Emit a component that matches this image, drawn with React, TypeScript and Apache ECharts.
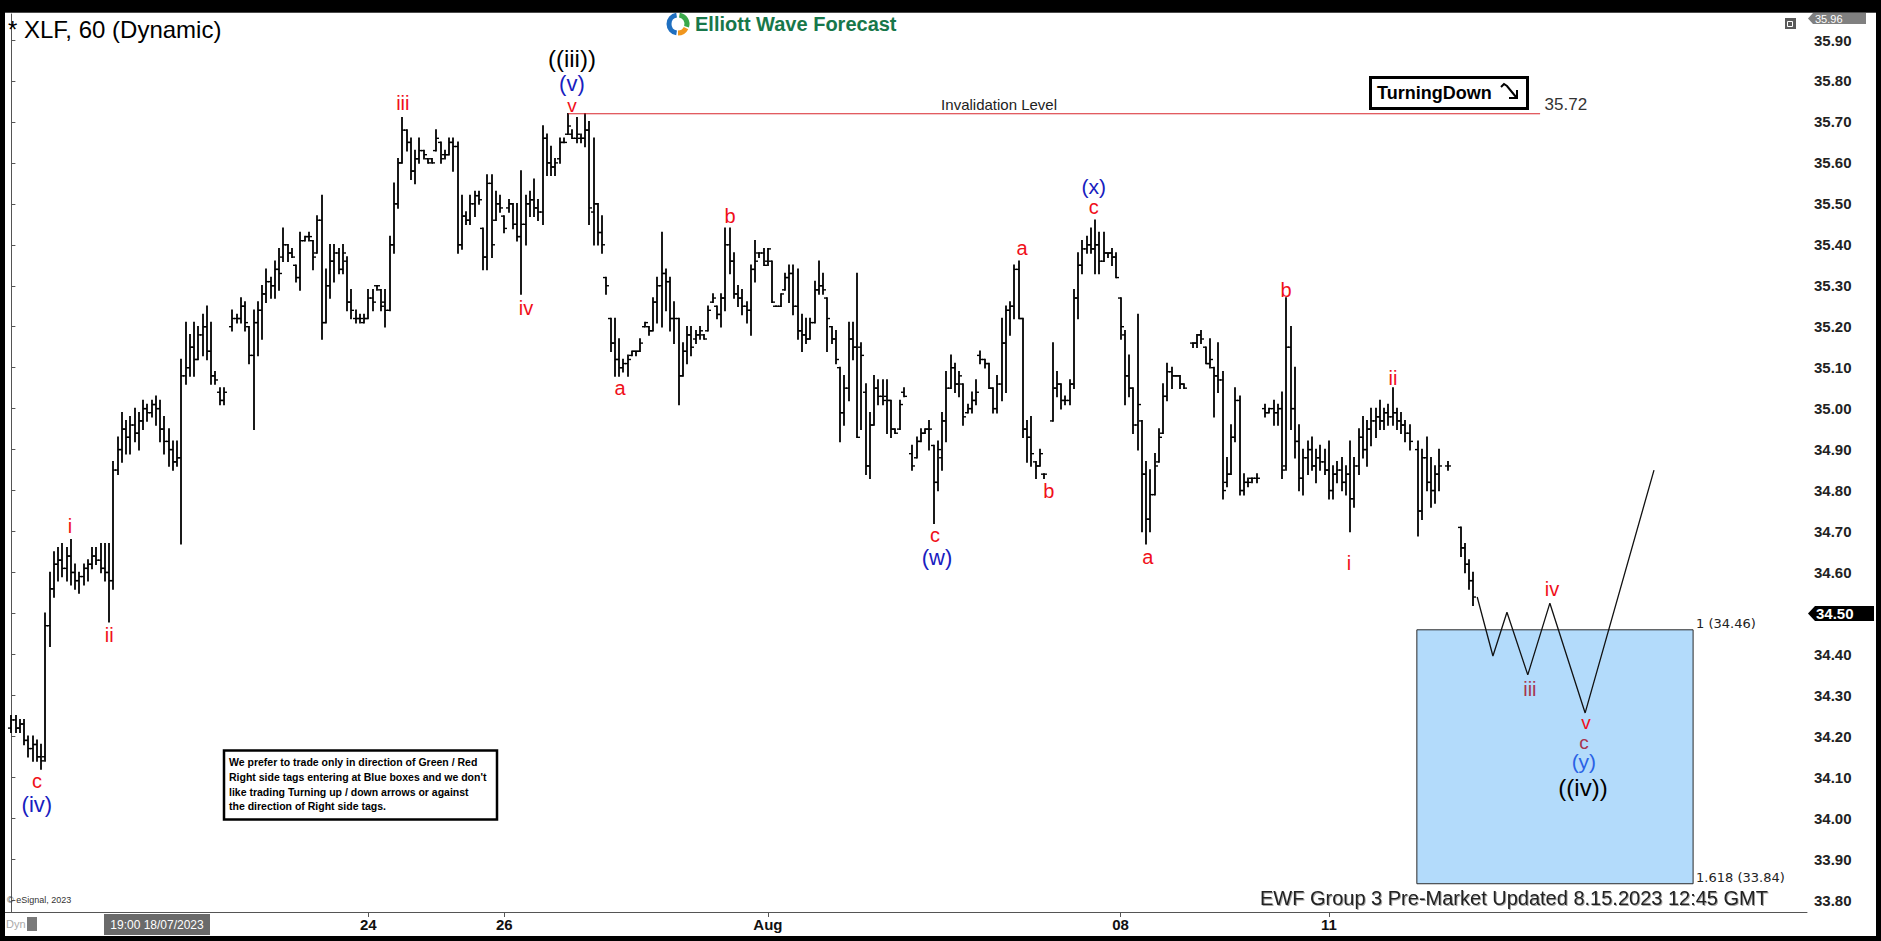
import React, { useEffect, useRef } from "react";
import * as echarts from "echarts";

type Bar = [number, number, number, number] | null; // [open, high, low, close]

// ---- hourly OHLC bars ----
const segJul17_19: Bar[] = [
  [34.22,34.25,34.21,34.24],[34.24,34.25,34.21,34.22],[34.22,34.24,34.21,34.23],[34.23,34.24,34.18,34.19],
  [34.19,34.20,34.15,34.17],[34.17,34.20,34.14,34.18],[34.18,34.19,34.14,34.15],[34.15,34.18,34.12,34.14],
  [34.15,34.50,34.14,34.47],[34.47,34.60,34.42,34.56],[34.56,34.65,34.54,34.62],[34.62,34.66,34.58,34.63],
  [34.63,34.67,34.59,34.61],[34.61,34.66,34.58,34.64],[34.64,34.68,34.57,34.60],[34.60,34.62,34.56,34.58],
  [34.58,34.60,34.55,34.59],[34.59,34.62,34.57,34.61],[34.61,34.63,34.58,34.62],[34.62,34.66,34.61,34.64],
  [34.64,34.66,34.62,34.63],[34.63,34.67,34.60,34.61],[34.61,34.67,34.58,34.60],[34.60,34.67,34.48,34.58],
  [34.58,34.87,34.56,34.85],[34.85,34.93,34.84,34.90],[34.90,34.99,34.87,34.95],[34.95,34.97,34.89,34.93],
  [34.93,34.98,34.89,34.96],[34.96,35.00,34.92,34.94],[34.94,34.99,34.90,34.97],[34.97,35.02,34.95,35.00],
  [35.00,35.01,34.97,34.99],[34.99,35.02,34.98,35.01],[35.01,35.03,34.96,35.00],[35.00,35.02,34.92,34.95],
  [34.95,34.98,34.89,34.92],[34.92,34.95,34.86,34.90],[34.90,34.92,34.85,34.87],[34.87,34.92,34.86,34.88],
  [34.88,35.12,34.67,35.08],
];
const segJul20_21: Bar[] = [
  [35.08,35.21,35.06,35.10],[35.10,35.18,35.08,35.15],[35.15,35.21,35.08,35.12],[35.12,35.20,35.12,35.18],
  [35.18,35.23,35.13,35.20],[35.20,35.25,35.12,35.14],[35.14,35.21,35.06,35.08],[35.08,35.09,35.06,35.07],
  [35.04,35.05,35.01,35.02],[35.02,35.05,35.01,35.04],null,
  [35.20,35.24,35.19,35.22],[35.22,35.23,35.21,35.22],[35.22,35.27,35.21,35.25],[35.25,35.26,35.19,35.21],
  [35.20,35.20,35.11,35.13],[35.13,35.24,34.95,35.21],[35.21,35.26,35.13,35.24],[35.24,35.30,35.17,35.28],
  [35.28,35.34,35.26,35.31],[35.31,35.32,35.27,35.30],[35.30,35.36,35.27,35.34],[35.34,35.39,35.29,35.33],
  [35.37,35.44,35.36,35.40],[35.40,35.40,35.36,35.38],[35.38,35.39,35.37,35.37],[35.35,35.35,35.31,35.32],
  [35.32,35.43,35.29,35.41],[35.41,35.42,35.41,35.42],[35.42,35.43,35.41,35.42],[35.41,35.41,35.34,35.37],
  [35.38,35.47,35.38,35.46],[35.46,35.52,35.17,35.21],
];
const segJul24_28: Bar[] = [
  [35.21,35.34,35.21,35.30],[35.30,35.40,35.27,35.36],[35.36,35.40,35.31,35.38],[35.38,35.39,35.33,35.34],
  [35.34,35.40,35.33,35.38],[35.36,35.37,35.24,35.26],[35.26,35.29,35.22,35.24],[35.22,35.24,35.21,35.22],
  [35.22,35.23,35.21,35.22],[35.21,35.23,35.21,35.22],[35.22,35.29,35.22,35.27],[35.27,35.29,35.24,35.26],
  [35.30,35.30,35.29,35.30],[35.29,35.29,35.24,35.25],[35.26,35.29,35.20,35.24],[35.24,35.42,35.24,35.40],
  [35.40,35.55,35.38,35.50],[35.50,35.61,35.49,35.60],[35.60,35.71,35.60,35.68],[35.68,35.68,35.63,35.65],
  [35.65,35.66,35.56,35.58],[35.58,35.63,35.55,35.61],[35.61,35.66,35.60,35.63],[35.63,35.63,35.61,35.62],
  [35.61,35.61,35.60,35.60],[35.61,35.61,35.60,35.60],[35.63,35.68,35.63,35.66],[35.65,35.65,35.60,35.61],
  [35.62,35.63,35.61,35.62],[35.62,35.66,35.62,35.65],[35.65,35.66,35.58,35.64],[35.64,35.65,35.38,35.40],
  [35.40,35.52,35.39,35.47],[35.47,35.48,35.45,35.46],[35.46,35.52,35.45,35.50],[35.50,35.53,35.47,35.52],
  [35.52,35.53,35.50,35.51],[35.44,35.44,35.34,35.37],[35.37,35.57,35.34,35.55],[35.55,35.57,35.37,35.40],
  [35.46,35.53,35.46,35.50],[35.50,35.52,35.48,35.49],[35.47,35.47,35.43,35.44],[35.49,35.51,35.48,35.50],
  [35.50,35.50,35.44,35.45],[35.45,35.50,35.41,35.42],[35.42,35.58,35.28,35.45],[35.45,35.52,35.40,35.50],
  [35.50,35.53,35.47,35.51],[35.51,35.56,35.47,35.49],[35.49,35.51,35.46,35.48],[35.48,35.69,35.45,35.66],
  [35.66,35.67,35.57,35.60],[35.60,35.64,35.57,35.59],[35.59,35.61,35.57,35.60],[35.61,35.66,35.60,35.65],
  [35.65,35.66,35.65,35.65],[35.67,35.72,35.67,35.69],[35.67,35.68,35.66,35.66],[35.66,35.71,35.65,35.67],
  [35.66,35.67,35.65,35.66],[35.66,35.72,35.64,35.68],[35.68,35.70,35.45,35.49],[35.48,35.66,35.40,35.50],
  [35.50,35.50,35.40,35.43],[35.43,35.47,35.38,35.40],[35.32,35.32,35.28,35.30],[35.22,35.22,35.14,35.16],
  [35.16,35.22,35.08,35.12],[35.12,35.17,35.08,35.10],[35.10,35.12,35.09,35.11],[35.11,35.13,35.08,35.12],
  [35.13,35.14,35.13,35.14],
];
const segJul31_Aug04: Bar[] = [
  [35.14,35.14,35.13,35.14],[35.14,35.17,35.14,35.16],[35.20,35.21,35.20,35.21],[35.20,35.20,35.18,35.19],
  [35.19,35.27,35.19,35.26],[35.26,35.32,35.21,35.30],[35.30,35.43,35.20,35.33],[35.33,35.34,35.24,35.31],
  [35.31,35.32,35.19,35.22],[35.22,35.26,35.16,35.22],[35.22,35.22,35.01,35.08],[35.08,35.16,35.08,35.14],
  [35.14,35.20,35.11,35.18],[35.18,35.20,35.13,35.15],[35.17,35.19,35.16,35.18],[35.18,35.20,35.17,35.19],
  [35.18,35.18,35.17,35.17],[35.19,35.25,35.19,35.24],[35.26,35.28,35.26,35.27],[35.25,35.25,35.22,35.23],
  [35.23,35.28,35.20,35.27],[35.27,35.44,35.24,35.40],[35.40,35.44,35.33,35.36],[35.36,35.38,35.27,35.28],
  [35.28,35.30,35.25,35.27],[35.27,35.29,35.23,35.25],[35.25,35.26,35.21,35.24],[35.24,35.35,35.18,35.34],
  [35.34,35.41,35.31,35.36],[35.38,35.38,35.37,35.38],[35.38,35.39,35.35,35.35],[35.36,35.39,35.35,35.39],
  [35.36,35.36,35.26,35.26],[35.25,35.25,35.25,35.25],[35.25,35.28,35.25,35.28],[35.29,35.33,35.29,35.32],
  [35.32,35.35,35.26,35.33],[35.33,35.35,35.23,35.25],[35.25,35.34,35.17,35.19],[35.19,35.23,35.14,35.18],
  [35.18,35.22,35.16,35.17],[35.17,35.22,35.17,35.21],[35.21,35.31,35.21,35.29],[35.29,35.36,35.28,35.30],
  [35.30,35.33,35.28,35.29],[35.27,35.27,35.14,35.22],[35.20,35.20,35.16,35.17],[35.17,35.19,35.11,35.12],
  [35.10,35.10,34.92,34.99],[34.99,35.08,34.96,35.05],[35.05,35.21,35.02,35.17],[35.17,35.21,35.12,35.15],
  [35.15,35.33,34.93,34.93],[35.15,35.16,34.95,35.13],[35.04,35.06,34.84,34.86],[34.86,34.99,34.83,34.96],
  [34.96,35.08,34.96,35.05],[35.05,35.07,35.01,35.03],[35.03,35.07,35.01,35.02],[35.03,35.07,34.94,35.02],
  [35.02,35.02,34.93,34.95],[34.95,34.95,34.94,34.94],[34.95,35.02,34.95,35.01],[35.04,35.05,35.03,35.03],
  null,
  [34.89,34.91,34.85,34.86],[34.88,34.93,34.88,34.92],[34.92,34.95,34.92,34.94],[34.94,34.95,34.94,34.95],
  [34.95,34.97,34.90,34.95],[34.91,34.91,34.72,34.82],[34.82,34.92,34.80,34.90],[34.88,34.99,34.85,34.97],
  [34.97,35.09,34.92,35.05],
];
const segAug07_10: Bar[] = [
  [35.05,35.13,35.05,35.10],[35.10,35.11,35.04,35.06],[35.06,35.09,35.03,35.08],[35.06,35.06,34.96,34.98],
  [34.99,35.01,34.99,35.00],[35.00,35.04,34.99,35.02],[35.02,35.07,35.01,35.04],[35.13,35.14,35.11,35.12],
  [35.12,35.12,35.10,35.11],[35.11,35.11,35.05,35.05],[35.05,35.05,34.99,35.00],[35.00,35.08,34.99,35.06],
  [35.06,35.22,35.02,35.16],[35.16,35.25,35.04,35.24],[35.24,35.26,35.18,35.25],[35.25,35.35,35.22,35.34],
  [35.34,35.36,35.22,35.22],[35.22,35.22,34.93,34.95],[34.95,34.97,34.87,34.93],[34.93,34.98,34.86,34.89],
  [34.87,34.87,34.83,34.86],[34.86,34.90,34.86,34.89],[34.84,34.84,34.83,34.84],null,
  [34.97,35.16,34.97,35.05],[35.05,35.09,35.03,35.06],[35.06,35.06,35.00,35.02],[35.02,35.03,35.01,35.02],
  [35.02,35.07,35.01,35.06],[35.06,35.29,35.05,35.27],[35.27,35.38,35.22,35.35],[35.35,35.41,35.33,35.39],
  [35.39,35.42,35.38,35.40],[35.40,35.44,35.38,35.39],[35.39,35.46,35.33,35.40],[35.40,35.43,35.33,35.36],
  [35.36,35.43,35.36,35.38],[35.38,35.38,35.37,35.38],[35.38,35.39,35.35,35.37],[35.37,35.38,35.32,35.32],
  [35.27,35.27,35.17,35.20],[35.18,35.19,35.01,35.08],[35.08,35.13,35.03,35.05],[35.05,35.05,34.94,34.96],
  [34.96,35.23,34.90,35.01],[34.97,34.97,34.70,34.84],[34.84,34.87,34.67,34.73],[34.73,34.85,34.70,34.79],
  [34.79,34.89,34.79,34.86],[34.87,34.95,34.87,34.93],[34.94,35.06,34.94,35.03],[35.03,35.11,35.02,35.09],
  [35.09,35.10,35.05,35.08],[35.08,35.08,35.08,35.08],[35.08,35.08,35.05,35.06],[35.06,35.06,35.05,35.05],
  null,
  [35.16,35.16,35.15,35.16],[35.16,35.18,35.15,35.18],[35.18,35.19,35.16,35.17],[35.15,35.15,35.11,35.11],
  [35.11,35.17,35.10,35.12],[35.10,35.10,34.98,35.08],[35.08,35.16,35.04,35.07],[35.07,35.09,34.78,34.80],
  [34.82,34.88,34.81,34.84],[34.84,34.96,34.84,34.93],[34.93,35.05,34.92,35.02],[35.02,35.03,34.79,34.80],
  [34.80,34.84,34.79,34.82],[34.82,34.83,34.81,34.82],[34.83,34.83,34.82,34.83],[34.83,34.84,34.82,34.83],
  null,
  [35.00,35.01,34.98,34.99],[34.99,35.00,34.99,35.00],[35.00,35.02,34.96,34.99],[34.99,35.01,34.96,35.00],
  [35.00,35.04,34.83,34.85],
];
const segAug11_15: Bar[] = [
  [34.86,35.27,34.85,35.15],[35.15,35.20,34.95,35.00],[35.00,35.10,34.88,34.92],[34.92,34.96,34.80,34.83],
  [34.83,34.90,34.79,34.88],[34.88,34.92,34.84,34.90],[34.90,34.93,34.85,34.86],[34.86,34.90,34.82,34.88],
  [34.88,34.91,34.85,34.87],[34.87,34.90,34.84,34.85],[34.85,34.92,34.78,34.80],[34.80,34.86,34.78,34.84],
  [34.84,34.87,34.82,34.85],[34.85,34.88,34.80,34.82],[34.82,34.86,34.79,34.84],[34.84,34.92,34.70,34.78],
  [34.78,34.88,34.76,34.86],[34.86,34.95,34.84,34.93],[34.93,34.98,34.88,34.90],[34.90,34.97,34.86,34.95],
  [34.95,35.00,34.91,34.97],[34.97,35.00,34.93,34.98],[34.98,35.02,34.95,34.97],[34.97,35.00,34.95,34.99],
  [34.99,35.01,34.96,34.98],[34.98,35.05,34.96,34.99],[34.99,35.00,34.95,34.97],[34.97,34.99,34.94,34.96],
  [34.96,34.97,34.92,34.94],[34.94,34.96,34.90,34.92],null,
  [34.90,34.92,34.69,34.75],[34.75,34.90,34.73,34.88],[34.88,34.93,34.80,34.82],[34.82,34.88,34.76,34.80],
  [34.80,34.86,34.77,34.84],[34.84,34.90,34.80,34.86],null,[34.86,34.87,34.85,34.86],null,null,
  [34.71,34.71,34.64,34.66],[34.66,34.67,34.60,34.62],[34.62,34.63,34.56,34.58],[34.58,34.60,34.52,34.54],
];
const allBars: Bar[] = [...segJul17_19, ...segJul20_21, ...segJul24_28, ...segJul31_Aug04, ...segAug07_10, ...segAug11_15];

// ---- axes ----
const yTicks = [33.8, 33.9, 34.0, 34.1, 34.2, 34.3, 34.4, 34.5, 34.6, 34.7, 34.8, 34.9, 35.0, 35.1, 35.2, 35.3, 35.4, 35.5, 35.6, 35.7, 35.8, 35.9];
const yMin = 33.771;
const yMax = 35.9635;
const slotCount = 424;
const dateTickIdx = [84, 116, 178, 261, 310];
const dateTickLabels = ["24", "26", "Aug", "08", "11"];

// ---- annotations ----
const invalidationLevel = 35.72;
const invalidationSpan = [131, 359.7];
const fibLevels = [34.46, 33.84];
const fibNames = ["1 (34.46)", "1.618 (33.84)"];
const boxSpan = [330.7, 395.7];
const projX = [344.9, 348.6, 351.9, 356.8, 362.0, 370.3, 386.5];
const projY = [34.54, 34.396, 34.503, 34.35, 34.525, 34.257, 34.85];
const lastPrice = 34.5;
const topPrice = "35.96";

const waveText = ["c", "(iv)", "i", "ii", "iii", "((iii))", "(v)", "v", "iv", "a", "b", "c", "(w)", "a", "b", "(x)", "c", "a", "b", "i", "ii", "iv", "iii", "v", "c", "(y)", "((iv))"];
const waveX = [6.0, 6.0, 13.8, 23.0, 92.1, 131.9, 131.9, 131.9, 121.1, 143.2, 169.1, 217.3, 217.8, 237.8, 244.1, 254.7, 254.7, 267.4, 299.9, 314.7, 325.1, 362.5, 357.3, 370.5, 370.0, 370.0, 369.8];
const waveY = [34.09, 34.034, 34.713, 34.447, 35.746, 35.856, 35.7926, 35.7413, 35.246, 35.05, 35.47, 34.691, 34.637, 35.392, 34.799, 35.5435, 35.4919, 34.637, 35.29, 34.623, 35.075, 34.559, 34.315, 34.2346, 34.1858, 34.1381, 34.075];
const RED = "#f0101a";
const NAVY = "#1820c0";
const waveColor = [RED, NAVY, RED, RED, RED, "#000", NAVY, RED, RED, RED, RED, RED, NAVY, RED, RED, NAVY, RED, RED, RED, RED, RED, RED, "#a8344e", RED, "#a8344e", "#2a62e6", "#000"];
const waveSize = [20, 22, 20, 20, 20, 24, 22, 19, 20, 20, 20, 20, 22, 20, 20, 21, 20, 20, 20, 20, 20, 20, 20, 19, 19, 21, 24];

const noteLines = [
  "We prefer to trade only in direction of Green / Red",
  "Right side tags entering at Blue boxes and we don't",
  "like trading Turning up / down arrows or against",
  "the direction of Right side tags.",
];

const FONT = "'Liberation Sans', Arial, sans-serif";

export default function App() {
  const ref = useRef<HTMLDivElement>(null);

  useEffect(() => {
    document.body.style.margin = "0";
    const chart = echarts.init(ref.current!, null, { renderer: "svg" });

    const ohlcData = allBars
      .map((b, i) => (b ? [i, b[0], b[1], b[2], b[3]] : null))
      .filter((d) => d !== null);

    const option: any = {
      animation: false,
      backgroundColor: "#ffffff",
      grid: { left: 5, top: 14, right: 74, bottom: 29 },
      xAxis: {
        type: "value",
        min: -1.5,
        max: slotCount - 1.5,
        axisLine: { show: true, lineStyle: { color: "#555", width: 1 } },
        axisTick: { show: true, customValues: dateTickIdx, length: 5, lineStyle: { color: "#555" } },
        axisLabel: {
          show: true,
          customValues: dateTickIdx,
          formatter: (v: number) => dateTickLabels[dateTickIdx.indexOf(Math.round(v))] ?? "",
          fontFamily: FONT,
          fontWeight: "bold",
          fontSize: 15,
          color: "#111",
          margin: 5,
        },
        splitLine: { show: false },
      },
      yAxis: {
        type: "value",
        position: "right",
        min: yMin,
        max: yMax,
        axisLine: { show: true, lineStyle: { color: "#555", width: 1 } },
        axisTick: { show: true, customValues: yTicks, length: 4, lineStyle: { color: "#555" } },
        axisLabel: {
          show: true,
          customValues: yTicks,
          formatter: (v: number) => v.toFixed(2),
          fontFamily: FONT,
          fontWeight: "bold",
          fontSize: 15,
          color: "#222",
          margin: 7,
        },
        splitLine: { show: false },
      },
      series: [
        {
          type: "line",
          name: "box",
          data: [
            [boxSpan[0], fibLevels[0]],
            [boxSpan[1], fibLevels[1]],
          ],
          symbol: "none",
          lineStyle: { opacity: 0 },
          silent: true,
          z: 1,
          markArea: {
            silent: true,
            itemStyle: { color: "#b3dbfb", borderColor: "#2a2a2a", borderWidth: 1 },
            data: [[{ coord: [boxSpan[0], fibLevels[0]] }, { coord: [boxSpan[1], fibLevels[1]] }]],
          },
        },
        {
          type: "custom",
          name: "XLF",
          data: ohlcData,
          encode: { x: 0, y: [1, 2, 3, 4] },
          clip: true,
          z: 3,
          renderItem: (_params: any, api: any) => {
            const i = api.value(0);
            const o = api.coord([i, api.value(1)]);
            const h = api.coord([i, api.value(2)]);
            const l = api.coord([i, api.value(3)]);
            const c = api.coord([i, api.value(4)]);
            const x = Math.round(h[0]);
            return {
              type: "group",
              children: [
                { type: "line", shape: { x1: x, y1: h[1] - 0.8, x2: x, y2: l[1] + 0.8 }, style: { stroke: "#000", lineWidth: 1.8 } },
                { type: "line", shape: { x1: x - 3, y1: o[1], x2: x, y2: o[1] }, style: { stroke: "#000", lineWidth: 1.4 } },
                { type: "line", shape: { x1: x, y1: c[1], x2: x + 3, y2: c[1] }, style: { stroke: "#000", lineWidth: 1.4 } },
              ],
            };
          },
        },
        {
          type: "line",
          name: "invalidation",
          data: invalidationSpan.map((x) => [x, invalidationLevel]),
          symbol: "none",
          silent: true,
          lineStyle: { color: "#d8262c", width: 1.2 },
          z: 4,
        },
        {
          type: "line",
          name: "projection",
          data: projX.map((x, i) => [x, projY[i]]),
          symbol: "none",
          silent: true,
          lineStyle: { color: "#111", width: 1.3 },
          z: 5,
        },
        {
          type: "scatter",
          name: "texts",
          symbolSize: 1,
          itemStyle: { color: "rgba(0,0,0,0)", opacity: 1 },
          silent: true,
          z: 10,
          data: [
            {
              value: [232.4, invalidationLevel],
              label: { show: true, position: "top", distance: 1, formatter: "Invalidation Level", color: "#222", fontSize: 15, fontFamily: FONT, opacity: 1 },
            },
            {
              value: [invalidationSpan[1], invalidationLevel],
              label: { show: true, position: "right", distance: 4, offset: [0, -9], formatter: "35.72", color: "#333", fontSize: 17, fontFamily: FONT, opacity: 1 },
            },
          ],
        },
        {
          type: "scatter",
          name: "waves",
          symbolSize: 1,
          itemStyle: { color: "rgba(0,0,0,0)", opacity: 1 },
          silent: true,
          z: 11,
          data: waveText.map((t, i) => ({
            value: [waveX[i], waveY[i]],
            label: { show: true, position: "inside", formatter: t, color: waveColor[i], fontSize: waveSize[i], fontFamily: FONT, opacity: 1 },
          })),
        },
      ],
    };

    chart.setOption(option);
    const yLast = chart.convertToPixel({ yAxisIndex: 0 }, lastPrice) as number;
    const fibPts = fibLevels.map((lv) => chart.convertToPixel({ xAxisIndex: 0, yAxisIndex: 0 }, [boxSpan[1], lv]) as number[]);

    const graphic: any[] = [
      // black frame
      { type: "rect", shape: { x: 0, y: 0, width: 1881, height: 12 }, style: { fill: "#000" }, z: 100 },
      { type: "rect", shape: { x: 0, y: 0, width: 5, height: 941 }, style: { fill: "#000" }, z: 100 },
      { type: "rect", shape: { x: 1876, y: 0, width: 5, height: 941 }, style: { fill: "#000" }, z: 100 },
      { type: "rect", shape: { x: 0, y: 936, width: 1881, height: 5 }, style: { fill: "#000" }, z: 100 },
      { type: "line", shape: { x1: 5, y1: 12.5, x2: 1876, y2: 12.5 }, style: { stroke: "#4a4a4a", lineWidth: 1 }, z: 100 },
      // title
      { type: "text", x: 8, y: 29, style: { text: "* XLF, 60 (Dynamic)", font: `24px ${FONT}`, fill: "#000", textVerticalAlign: "middle" }, z: 100 },
      // logo
      { type: "arc", shape: { cx: 678, cy: 24, r: 9, startAngle: Math.PI * 0.55, endAngle: Math.PI * 1.45 }, style: { stroke: "#1f6fc0", lineWidth: 5, fill: "none" }, z: 100 },
      { type: "arc", shape: { cx: 678, cy: 24, r: 9, startAngle: -Math.PI * 0.45, endAngle: Math.PI * 0.1 }, style: { stroke: "#3aa84a", lineWidth: 5, fill: "none" }, z: 100 },
      { type: "arc", shape: { cx: 678, cy: 24, r: 9, startAngle: Math.PI * 0.15, endAngle: Math.PI * 0.5 }, style: { stroke: "#f0961e", lineWidth: 5, fill: "none" }, z: 100 },
      { type: "text", x: 695, y: 24, style: { text: "Elliott Wave Forecast", font: `bold 20px ${FONT}`, fill: "#17774a", textVerticalAlign: "middle" }, z: 100 },
      // top-right icon and top price tag
      { type: "rect", shape: { x: 1785, y: 18, width: 11, height: 11 }, style: { fill: "#5a5a5a" }, z: 100 },
      { type: "rect", shape: { x: 1787.5, y: 21.5, width: 5, height: 5 }, style: { fill: "none", stroke: "#fff", lineWidth: 1 }, z: 100 },
      { type: "polygon", shape: { points: [[1808, 18.5], [1813, 13], [1866, 13], [1866, 24], [1813, 24]] }, style: { fill: "#808080" }, z: 100 },
      { type: "text", x: 1815, y: 18.5, style: { text: topPrice, font: `11px ${FONT}`, fill: "#fff", textVerticalAlign: "middle" }, z: 100 },
      // last price tag
      { type: "polygon", shape: { points: [[1808, yLast], [1815, yLast - 7.5], [1874, yLast - 7.5], [1874, yLast + 7.5], [1815, yLast + 7.5]] }, style: { fill: "#000" }, z: 100 },
      { type: "text", x: 1816, y: yLast, style: { text: lastPrice.toFixed(2), font: `bold 15px ${FONT}`, fill: "#fff", textVerticalAlign: "middle" }, z: 100 },
      // fib level labels at the box's right edge
      ...fibPts.map((p, k) => ({
        type: "text",
        x: p[0] + 3,
        y: p[1] - 6,
        style: { text: fibNames[k], font: `13px 'DejaVu Sans', Verdana, sans-serif`, fill: "#222", textVerticalAlign: "middle" },
        z: 100,
      })),
      // Turning down box
      { type: "rect", shape: { x: 1370.5, y: 77.5, width: 157, height: 31 }, style: { fill: "#fff", stroke: "#000", lineWidth: 3 }, z: 100 },
      { type: "text", x: 1377, y: 93, style: { text: "TurningDown", font: `bold 18px ${FONT}`, fill: "#000", textVerticalAlign: "middle" }, z: 100 },
      { type: "polyline", shape: { points: [[1501, 87], [1504, 84], [1507, 86], [1516, 97]] }, style: { stroke: "#000", lineWidth: 2, fill: "none" }, z: 100 },
      { type: "polyline", shape: { points: [[1509, 98], [1517, 98], [1517, 90]] }, style: { stroke: "#000", lineWidth: 2, fill: "none" }, z: 100 },
      // note box
      { type: "rect", shape: { x: 224, y: 750.5, width: 273, height: 69 }, style: { fill: "#fff", stroke: "#000", lineWidth: 2.5 }, z: 100 },
      ...noteLines.map((t, k) => ({
        type: "text",
        x: 229,
        y: 762 + k * 14.8,
        style: { text: t, font: `bold 10.5px ${FONT}`, fill: "#000", textVerticalAlign: "middle" },
        z: 101,
      })),
      // bottom-left
      { type: "text", x: 7, y: 900, style: { text: "© eSignal, 2023", font: `9px ${FONT}`, fill: "#333", textVerticalAlign: "middle" }, z: 100 },
      { type: "text", x: 6, y: 924, style: { text: "Dyn", font: `11px ${FONT}`, fill: "#aaa", textVerticalAlign: "middle" }, z: 100 },
      { type: "rect", shape: { x: 27, y: 917, width: 10, height: 14 }, style: { fill: "#7a7a7a" }, z: 100 },
      { type: "rect", shape: { x: 104, y: 914, width: 106, height: 21 }, style: { fill: "#6a6a6a" }, z: 100 },
      { type: "text", x: 157, y: 924.5, style: { text: "19:00 18/07/2023", font: `12px ${FONT}`, fill: "#fff", textAlign: "center", textVerticalAlign: "middle" }, z: 101 },
      // footer
      {
        type: "text",
        x: 1768,
        y: 898,
        style: {
          text: "EWF Group 3 Pre-Market Updated 8.15.2023 12:45 GMT",
          font: `20px 'Liberation Sans Narrow', 'Arial Narrow', ${FONT}`,
          fill: "#222",
          textAlign: "right",
          textVerticalAlign: "middle",
          textShadowColor: "rgba(0,0,0,0.35)",
          textShadowOffsetX: 1,
          textShadowOffsetY: 1,
          textShadowBlur: 1,
        },
        z: 100,
      },
    ];
    chart.setOption({ graphic });

    return () => chart.dispose();
  }, []);

  return <div ref={ref} style={{ width: 1881, height: 941 }} />;
}
